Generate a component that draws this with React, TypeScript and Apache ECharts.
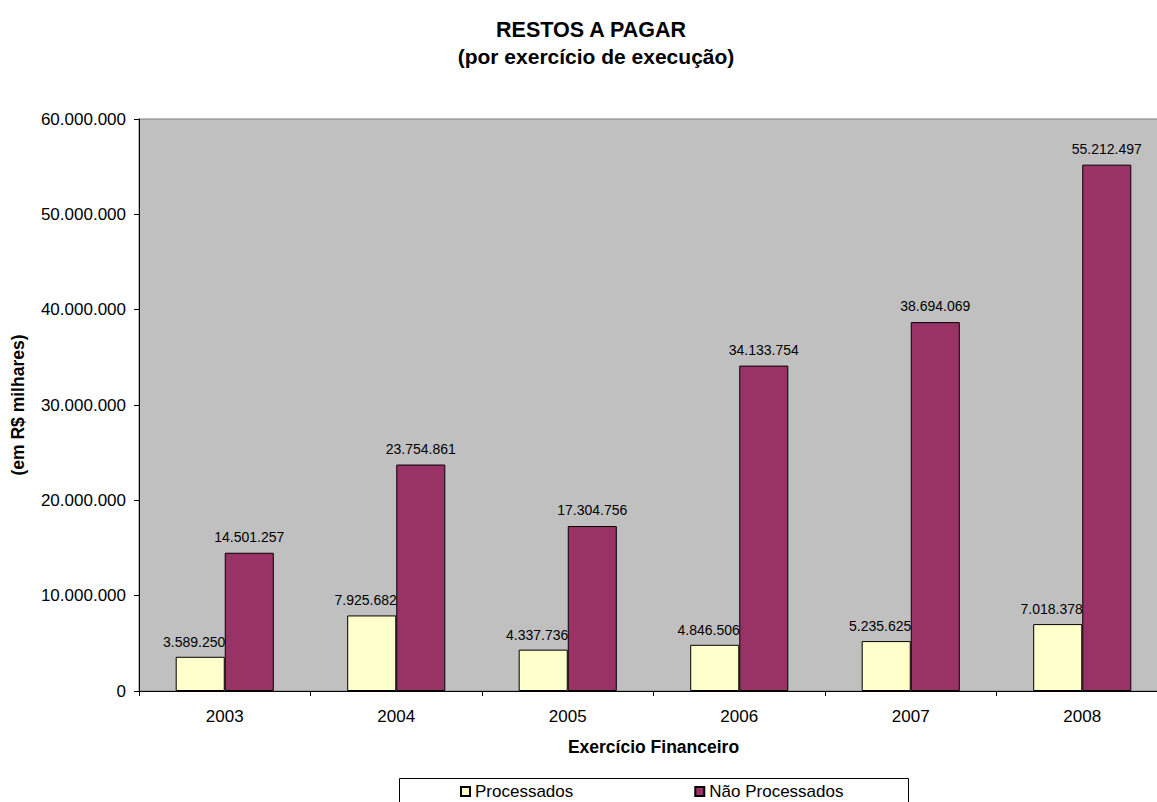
import React, { useEffect, useRef } from "react";
import * as echarts from "echarts";

const categories = ["2003", "2004", "2005", "2006", "2007", "2008"];
const processados = [3589250, 7925682, 4337736, 4846506, 5235625, 7018378];
const naoProcessados = [14501257, 23754861, 17304756, 34133754, 38694069, 55212497];
const yTicks = { min: 0, max: 60000000, interval: 10000000 };

const FONT = "'Liberation Sans', Arial, Helvetica, sans-serif";

const fmt = (v: number) =>
  Math.round(v)
    .toString()
    .replace(/\B(?=(\d{3})+(?!\d))/g, ".");

export default function App() {
  const ref = useRef<HTMLDivElement>(null);
  useEffect(() => {
    if (!ref.current) return;
    const chart = echarts.init(ref.current, null, { renderer: "svg" });
    chart.setOption({
      animation: false,
      backgroundColor: "#ffffff",
      textStyle: { fontFamily: FONT },
      title: [
        {
          text: "RESTOS A PAGAR",
          left: 586,
          top: 14,
          textAlign: "center",
          textStyle: { fontFamily: FONT, fontSize: 21.5, fontWeight: "bold", color: "#000" },
        },
        {
          text: "(por exercício de execução)",
          left: 591,
          top: 41,
          textAlign: "center",
          textStyle: { fontFamily: FONT, fontSize: 21, fontWeight: "bold", color: "#000" },
        },
      ],
      graphic: [
        {
          type: "rect",
          shape: { x: 399.5, y: 778.5, width: 509, height: 60 },
          style: { fill: "#fff", stroke: "#000", lineWidth: 1 },
          z: 0,
        },
      ],
      legend: {
        left: 455,
        top: 778,
        icon: "rect",
        itemWidth: 9,
        itemHeight: 9,
        itemGap: 121,
        z: 10,
        textStyle: { fontFamily: FONT, fontSize: 17, color: "#000" },
        data: ["Processados", "Não Processados"],
      },
      grid: {
        left: 139,
        right: 0,
        top: 119,
        bottom: 111,
        show: true,
        backgroundColor: "#C0C0C0",
        borderColor: "#808080",
        borderWidth: 1,
      },
      xAxis: {
        type: "category",
        data: categories,
        name: "Exercício Financeiro",
        nameLocation: "middle",
        nameGap: 47,
        nameTextStyle: {
          fontFamily: FONT,
          fontSize: 17.5,
          fontWeight: "bold",
          color: "#000",
        },
        axisLine: { show: true, lineStyle: { color: "#000", width: 1 } },
        axisTick: { show: true, length: 5, alignWithLabel: false, lineStyle: { color: "#000" } },
        axisLabel: { margin: 17, fontFamily: FONT, fontSize: 17, color: "#000" },
        splitLine: { show: false },
      },
      yAxis: {
        type: "value",
        min: yTicks.min,
        max: yTicks.max,
        interval: yTicks.interval,
        name: "(em R$ milhares)",
        nameLocation: "middle",
        nameRotate: 90,
        nameGap: 112,
        nameTextStyle: { fontFamily: FONT, fontSize: 17.5, fontWeight: "bold", color: "#000" },
        axisLine: { show: true, lineStyle: { color: "#000", width: 1 } },
        axisTick: { show: true, length: 5, lineStyle: { color: "#000" } },
        axisLabel: {
          margin: 13,
          fontFamily: FONT,
          fontSize: 17,
          color: "#000",
          formatter: (v: number) => fmt(v),
        },
        splitLine: { show: false },
      },
      series: [
        {
          name: "Processados",
          type: "bar",
          data: processados,
          barWidth: "28.6%",
          barGap: "0%",
          itemStyle: { color: "#FFFFCC", borderColor: "#000", borderWidth: 1 },
          label: {
            show: true,
            position: "top",
            distance: 8,
            offset: [-6, 0],
            fontFamily: FONT,
            fontSize: 14,
            color: "#000",
            formatter: (p: any) => fmt(p.value),
          },
        },
        {
          name: "Não Processados",
          type: "bar",
          data: naoProcessados,
          barWidth: "28.6%",
          barGap: "0%",
          itemStyle: { color: "#993366", borderColor: "#000", borderWidth: 1 },
          label: {
            show: true,
            position: "top",
            distance: 9,
            fontFamily: FONT,
            fontSize: 14,
            color: "#000",
            formatter: (p: any) => fmt(p.value),
          },
        },
      ],
    });
    return () => chart.dispose();
  }, []);
  return (
    <div
      style={{ position: "absolute", left: 0, top: 0, width: 1157, height: 802, overflow: "hidden" }}
    >
      <div ref={ref} style={{ width: 1168, height: 802 }} />
    </div>
  );
}
